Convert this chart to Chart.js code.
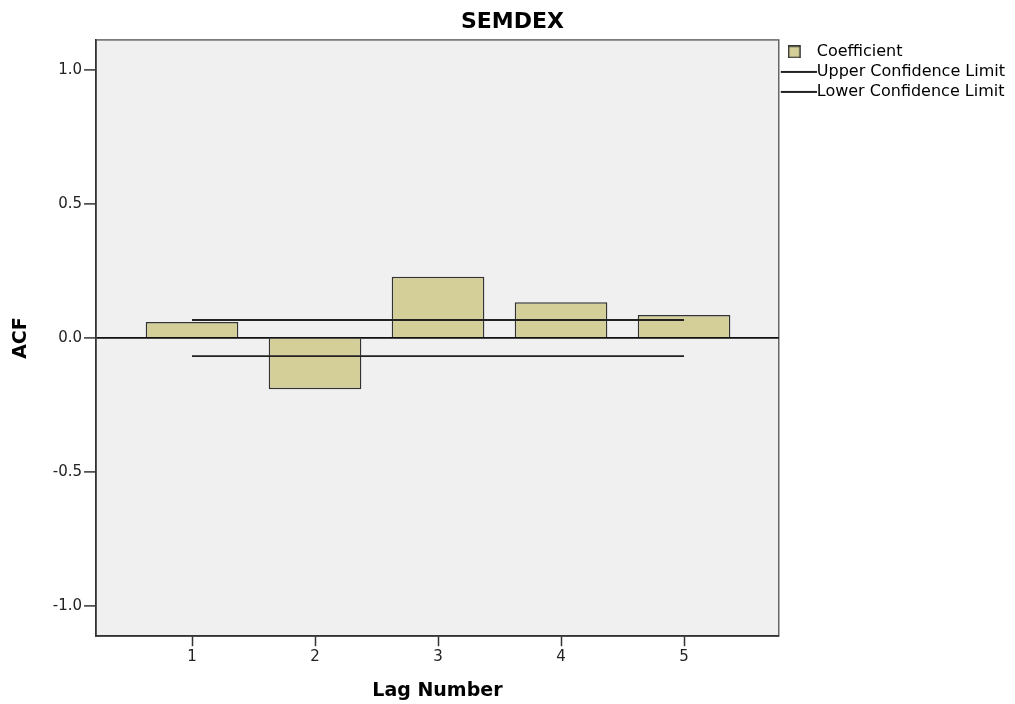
<!DOCTYPE html>
<html>
<head>
<meta charset="utf-8">
<script src="https://cdn.jsdelivr.net/npm/chart.js@4.4.0/dist/chart.umd.min.js"></script>
<style>
  html, body { margin: 0; padding: 0; background: #fff; }
  #wrap { width: 1015px; height: 704px; }
</style>
</head>
<body>
<div id="wrap"><canvas id="acfchart"></canvas></div>
<script>
// ACF values
const lags = [1, 2, 3, 4, 5]
const coefficients = [0.059, -0.192, 0.228, 0.133, 0.086]
const limitLags = [1, 5]
const upperLimit = [0.067, 0.067]
const lowerLimit = [-0.068, -0.068]
const yTicks = [-1.0, -0.5, 0.0, 0.5, 1.0]
const seriesNames = ['Coefficient', 'Upper Confidence Limit', 'Lower Confidence Limit']

const FONT = "'DejaVu Sans', sans-serif"
const BAR_FILL = 'rgb(212, 207, 152)'
const INK = '#222'

// little legend swatches
function swatch (w, h, draw) {
  const c = document.createElement('canvas')
  c.width = w
  c.height = h
  draw(c.getContext('2d'))
  return c
}
const barSwatch = swatch(16, 13, ctx => {
  ctx.fillStyle = BAR_FILL
  ctx.fillRect(0, 0, 13, 13)
  ctx.strokeStyle = '#333'
  ctx.lineWidth = 1.5
  ctx.strokeRect(0.75, 0.75, 11.5, 11.5)
})
const lineSwatch = swatch(42, 4, ctx => {
  ctx.strokeStyle = INK
  ctx.lineWidth = 2
  ctx.beginPath()
  ctx.moveTo(6, 2)
  ctx.lineTo(42, 2)
  ctx.stroke()
})

const plotFrame = {
  id: 'plotFrame',
  beforeDraw (chart) {
    const { ctx, chartArea: a } = chart
    ctx.save()
    ctx.fillStyle = '#f0f0f0'
    ctx.fillRect(a.left, a.top, a.right - a.left, a.bottom - a.top)
    ctx.strokeStyle = '#666'
    ctx.lineWidth = 1.5
    ctx.strokeRect(a.left, a.top, a.right - a.left, a.bottom - a.top)
    ctx.restore()
  }
}

new Chart(document.getElementById('acfchart'), {
  type: 'bar',
  data: {
    datasets: [
      {
        type: 'bar',
        label: seriesNames[0],
        data: lags.map((x, i) => ({ x, y: coefficients[i] })),
        backgroundColor: BAR_FILL,
        borderColor: '#333',
        borderWidth: 1.5,
        categoryPercentage: 1,
        barPercentage: 0.753,
        order: 1
      },
      {
        type: 'line',
        label: seriesNames[1],
        data: limitLags.map((x, i) => ({ x, y: upperLimit[i] })),
        borderColor: INK,
        borderWidth: 1.8,
        pointRadius: 0,
        fill: false,
        order: 0
      },
      {
        type: 'line',
        label: seriesNames[2],
        data: limitLags.map((x, i) => ({ x, y: lowerLimit[i] })),
        borderColor: INK,
        borderWidth: 1.8,
        pointRadius: 0,
        fill: false,
        order: 0
      }
    ]
  },
  options: {
    responsive: true,
    maintainAspectRatio: false,
    animation: false,
    layout: { padding: { left: 10, right: 0, top: 0, bottom: 0 } },
    plugins: {
      title: {
        display: true,
        text: 'SEMDEX',
        color: '#000',
        font: { family: FONT, size: 22, weight: 'bold' },
        padding: { top: 9.5, bottom: 4 }
      },
      legend: {
        position: 'right',
        align: 'start',
        fullSize: false,
        maxWidth: 237,
        labels: {
          color: '#111',
          font: { family: FONT, size: 16 },
          usePointStyle: true,
          pointStyleWidth: 26,
          padding: 4,
          generateLabels: () => [
            { text: seriesNames[0], pointStyle: barSwatch, datasetIndex: 0, hidden: false, lineWidth: 0 },
            { text: seriesNames[1], pointStyle: lineSwatch, datasetIndex: 1, hidden: false, lineWidth: 0 },
            { text: seriesNames[2], pointStyle: lineSwatch, datasetIndex: 2, hidden: false, lineWidth: 0 }
          ]
        }
      },
      tooltip: { enabled: false }
    },
    scales: {
      x: {
        type: 'linear',
        min: 0.22,
        max: 5.77,
        offset: false,
        afterBuildTicks: s => { s.ticks = lags.map(v => ({ value: v })) },
        ticks: { color: '#222', font: { family: FONT, size: 15 }, padding: 2 },
        grid: { offset: false, color: 'rgba(0,0,0,0)', tickColor: '#333', tickLength: 10, tickWidth: 1.5 },
        border: { color: '#333', width: 1.5 },
        title: {
          display: true,
          text: 'Lag Number',
          color: '#000',
          font: { family: FONT, size: 19, weight: 'bold' },
          padding: { top: 11, bottom: 2 }
        }
      },
      y: {
        min: -1.114,
        max: 1.113,
        afterBuildTicks: s => { s.ticks = yTicks.map(v => ({ value: v })) },
        ticks: {
          color: '#222',
          font: { family: FONT, size: 15 },
          padding: 2,
          callback: v => v.toFixed(1)
        },
        grid: {
          color: c => (c.tick && c.tick.value === 0 ? '#111' : 'rgba(0,0,0,0)'),
          lineWidth: 1.8,
          tickColor: '#333',
          tickLength: 12,
          tickWidth: 1.5
        },
        border: { color: '#333', width: 1.5 },
        title: {
          display: true,
          text: 'ACF',
          color: '#000',
          font: { family: FONT, size: 19, weight: 'bold' },
          padding: { top: 0, bottom: 18 }
        }
      }
    }
  },
  plugins: [plotFrame]
})
</script>
</body>
</html>
